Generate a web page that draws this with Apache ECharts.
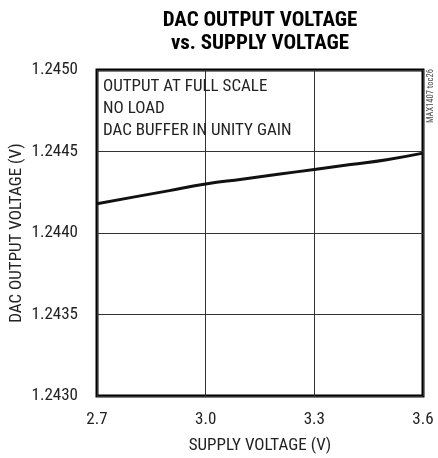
<!DOCTYPE html>
<html>
<head>
<meta charset="utf-8">
<style>
  html, body { margin: 0; padding: 0; background: #fff; }
  #chart { width: 438px; height: 458px; }
</style>
<script src="https://cdn.jsdelivr.net/npm/echarts@6/dist/echarts.min.js"></script>
</head>
<body>
<div id="chart"></div>
<script>
// DAC output voltage measured against supply voltage
const supplyVoltage = [2.7, 2.8, 2.9, 3.0, 3.1, 3.2, 3.3, 3.4, 3.5, 3.6];
const dacOutput = [1.24418, 1.24422, 1.24426, 1.24430, 1.24433, 1.24436, 1.24439, 1.24442, 1.24445, 1.24449];
const xTicks = [2.7, 3.0, 3.3, 3.6];
const yTicks = [1.2430, 1.2435, 1.2440, 1.2445, 1.2450];
const noteLines = ['OUTPUT AT FULL SCALE', 'NO LOAD', 'DAC BUFFER IN UNITY GAIN'];

const FONT = '"Roboto Condensed", "DejaVu Sans Condensed", sans-serif';

const chart = echarts.init(document.getElementById('chart'), null, { renderer: 'canvas' });

chart.setOption({
  animation: false,
  backgroundColor: '#ffffff',
  grid: {
    show: true, borderColor: '#000', borderWidth: 3, backgroundColor: 'transparent',
    left: 97, right: 15, top: 70, bottom: 62,
    containLabel: false, outerBoundsMode: 'none'
  },
  xAxis: {
    type: 'value',
    min: xTicks[0],
    max: xTicks[xTicks.length - 1],
    interval: 0.3,
    name: 'SUPPLY VOLTAGE (V)',
    nameLocation: 'middle',
    nameGap: 41,
    nameTextStyle: { fontFamily: FONT, fontSize: 17, color: '#222' },
    axisLine: { show: false },
    axisTick: { show: false },
    splitLine: { show: true, lineStyle: { color: '#333', width: 1 } },
    axisLabel: {
      fontFamily: FONT, fontSize: 17, color: '#222', margin: 15,
      formatter: v => {
        const t = xTicks.find(t => Math.abs(t - v) < 1e-6);
        return t === undefined ? '' : t.toFixed(1);
      }
    }
  },
  yAxis: {
    type: 'value',
    min: yTicks[0],
    max: yTicks[yTicks.length - 1],
    interval: 0.0005,
    name: 'DAC OUTPUT VOLTAGE (V)',
    nameLocation: 'middle',
    nameGap: 72,
    nameMoveOverlap: false,
    nameRotate: 90,
    nameTextStyle: { fontFamily: FONT, fontSize: 17, color: '#222' },
    axisLine: { show: false },
    axisTick: { show: false },
    splitLine: { show: true, lineStyle: { color: '#333', width: 1 } },
    axisLabel: {
      fontFamily: FONT, fontSize: 17, color: '#222', margin: 19,
      formatter: v => {
        const t = yTicks.find(t => Math.abs(t - v) < 1e-9);
        return t === undefined ? '' : t.toFixed(4);
      }
    }
  },
  series: [{
    type: 'line',
    data: supplyVoltage.map((x, i) => [x, dacOutput[i]]),
    smooth: true,
    showSymbol: false,
    lineStyle: { color: '#111', width: 3 },
    z: 5
  }],
  graphic: [
    {
      type: 'text', x: 260, y: 9,
      style: {
        text: 'DAC OUTPUT VOLTAGE\nvs. SUPPLY VOLTAGE',
        fontFamily: FONT, fontSize: 21, fontWeight: 'bold',
        fill: '#000', align: 'center', lineHeight: 23
      }
    },
    {
      type: 'text', x: 103, y: 76,
      style: {
        text: noteLines.join('\n'),
        fontFamily: FONT, fontSize: 17, fill: '#222', lineHeight: 22
      },
      z: 10
    },
    {
      // figure code, written bottom-to-top beside the plot's right edge
      type: 'text', x: 431, y: 123, rotation: Math.PI / 2,
      style: {
        text: 'MAX1407 toc26',
        fontFamily: FONT, fontSize: 8.5, fill: '#444', align: 'left', verticalAlign: 'middle'
      }
    }
  ]
});
</script>
</body>
</html>
